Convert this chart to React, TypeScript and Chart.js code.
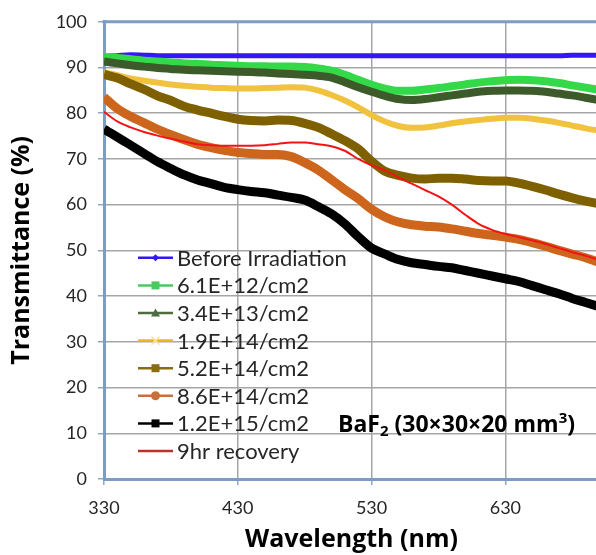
import { useEffect, useRef } from "react";
import { Chart, registerables } from "chart.js";

Chart.register(...registerables);

// Wavelength (nm)
const wavelengths = [
  330, 340, 350, 360, 370, 380, 390, 400, 410, 420, 430, 440, 450, 460, 470, 480, 490, 500, 510,
  520, 530, 540, 550, 560, 570, 580, 590, 600, 610, 620, 630, 640, 650, 660, 670, 680, 690, 700,
];

const beforeIrradiation = [
  92.4, 92.6, 92.8, 92.7, 92.6, 92.6, 92.6, 92.6, 92.6, 92.6, 92.6, 92.6, 92.6, 92.6, 92.6, 92.6, 92.6, 92.6, 92.6,
  92.6, 92.6, 92.6, 92.6, 92.6, 92.6, 92.6, 92.6, 92.6, 92.6, 92.6, 92.6, 92.6, 92.6, 92.6, 92.6, 92.7, 92.7, 92.7,
];
const dose61E12 = [
  92.3, 92.1, 91.8, 91.5, 91.3, 91.1, 90.9, 90.8, 90.6, 90.5, 90.4, 90.3, 90.3, 90.2, 90.2, 90.1, 89.8, 89.3, 88.4,
  87.3, 86.2, 85.4, 84.9, 84.9, 85.2, 85.5, 85.9, 86.3, 86.7, 87.0, 87.2, 87.3, 87.2, 87.0, 86.6, 86.1, 85.6, 85.1,
];
const dose34E13 = [
  91.3, 90.9, 90.5, 90.2, 89.9, 89.7, 89.5, 89.4, 89.3, 89.2, 89.1, 89.0, 88.9, 88.7, 88.6, 88.4, 88.2, 87.8, 86.8,
  85.7, 84.7, 83.8, 83.1, 82.9, 83.1, 83.5, 83.9, 84.3, 84.7, 84.9, 85.0, 85.0, 84.9, 84.7, 84.3, 83.9, 83.4, 82.9,
];
const dose19E14 = [
  89.0, 88.3, 87.6, 87.1, 86.7, 86.3, 86.0, 85.8, 85.6, 85.5, 85.4, 85.4, 85.5, 85.6, 85.7, 85.6, 85.0, 84.0, 82.8,
  81.3, 79.6, 78.2, 77.2, 76.8, 76.9, 77.3, 77.8, 78.2, 78.5, 78.8, 79.0, 79.0, 78.8, 78.4, 77.9, 77.3, 76.7, 76.2,
];
const dose52E14 = [
  88.5, 87.7, 86.4, 85.2, 83.8, 82.8, 81.5, 80.7, 80.0, 79.3, 78.7, 78.4, 78.3, 78.5, 78.4, 77.8, 76.9, 75.5, 74.0,
  72.2, 69.5, 67.3, 66.4, 65.8, 65.6, 65.8, 65.8, 65.6, 65.3, 65.2, 65.2, 64.7, 64.0, 63.2, 62.3, 61.5, 60.8, 60.2,
];
const dose86E14 = [
  83.5, 81.0, 79.3, 77.9, 76.5, 75.3, 74.2, 73.2, 72.5, 71.9, 71.4, 71.2, 71.0, 71.0, 70.5, 69.2, 67.6, 65.5, 63.3,
  61.3, 59.0, 57.3, 56.2, 55.6, 55.3, 55.1, 54.7, 54.2, 53.7, 53.3, 52.9, 52.4, 51.7, 50.9, 50.0, 49.2, 48.4, 47.4,
];
const dose12E15 = [
  76.5, 74.8, 73.0, 71.2, 69.4, 67.9, 66.5, 65.4, 64.6, 63.8, 63.3, 62.9, 62.6, 62.1, 61.6, 61.0, 59.6, 58.0, 55.8,
  53.0, 50.5, 49.2, 48.0, 47.3, 46.9, 46.5, 46.2, 45.6, 45.0, 44.4, 43.8, 43.2, 42.3, 41.4, 40.5, 39.5, 38.6, 37.7,
];
const recovery9hr = [
  80.3, 78.2, 76.9, 75.9, 75.1, 74.4, 73.8, 73.2, 73.0, 72.9, 72.9, 72.9, 73.0, 73.3, 73.6, 73.6, 73.2, 72.8, 71.8,
  70.0, 68.6, 67.5, 66.0, 64.6, 63.2, 61.8, 60.0, 57.8, 55.8, 54.5, 53.6, 52.9, 52.2, 51.4, 50.5, 49.6, 48.8, 47.9,
];

const seriesLabels = [
  "Before Irradiation",
  "6.1E+12/cm2",
  "3.4E+13/cm2",
  "1.9E+14/cm2",
  "5.2E+14/cm2",
  "8.6E+14/cm2",
  "1.2E+15/cm2",
  "9hr recovery",
];
const seriesValues = [
  beforeIrradiation, dose61E12, dose34E13, dose19E14, dose52E14, dose86E14, dose12E15, recovery9hr,
];
const seriesColors = ["#3417f5", "#33d948", "#3c5a2a", "#f0c23e", "#7f6000", "#cd651c", "#000000", "#f21414"];
const legendLineColors = ["#3417f5", "#4cc860", "#4f6b40", "#e8b820", "#8a6d10", "#c8703a", "#000000", "#c0302a"];
const seriesWidths = [5, 8, 8, 6, 9, 9, 9, 2];
const legendMarkers = ["diamond", "square", "triangle", "cross", "square", "circle", "square", "none"];

const xTicks = [330, 430, 530, 630];
const yTicks = [0, 10, 20, 30, 40, 50, 60, 70, 80, 90, 100];

const FRAME = "#7d9cc2";
const GRID = "#a6a6a6";
const FONT = "Lato, 'Open Sans', sans-serif";
const TITLE_FONT = "'Open Sans', Lato, sans-serif";

const framePlugin = {
  id: "frameTop",
  beforeDatasetsDraw(chart: any) {
    const { ctx, chartArea } = chart;
    ctx.save();
    ctx.strokeStyle = FRAME;
    ctx.lineWidth = 3;
    ctx.beginPath();
    ctx.moveTo(chartArea.left - 1.5, chartArea.top);
    ctx.lineTo(chartArea.right + 2, chartArea.top);
    ctx.stroke();
    ctx.restore();
  },
};

function drawMarker(ctx: CanvasRenderingContext2D, kind: string, x: number, y: number, color: string) {
  ctx.save();
  ctx.fillStyle = color;
  ctx.strokeStyle = color;
  if (kind === "diamond") {
    ctx.beginPath();
    ctx.moveTo(x, y - 3.5);
    ctx.lineTo(x + 3.5, y);
    ctx.lineTo(x, y + 3.5);
    ctx.lineTo(x - 3.5, y);
    ctx.closePath();
    ctx.fill();
  } else if (kind === "square") {
    ctx.fillRect(x - 4, y - 4, 8, 8);
  } else if (kind === "triangle") {
    ctx.beginPath();
    ctx.moveTo(x, y - 4.5);
    ctx.lineTo(x + 4.5, y + 3.5);
    ctx.lineTo(x - 4.5, y + 3.5);
    ctx.closePath();
    ctx.fill();
  } else if (kind === "circle") {
    ctx.beginPath();
    ctx.arc(x, y, 4.5, 0, Math.PI * 2);
    ctx.fill();
  } else if (kind === "cross") {
    ctx.strokeStyle = "#f7e3a0";
    ctx.lineWidth = 1.5;
    ctx.beginPath();
    ctx.moveTo(x - 4, y - 4);
    ctx.lineTo(x + 4, y + 4);
    ctx.moveTo(x + 4, y - 4);
    ctx.lineTo(x - 4, y + 4);
    ctx.stroke();
  }
  ctx.restore();
}

const legendPlugin = {
  id: "insideLegend",
  afterDraw(chart: any) {
    const { ctx, chartArea } = chart;
    const x0 = chartArea.left + 34;
    const y0 = chartArea.top + 236;
    const step = 27.6;
    ctx.save();
    ctx.font = `22px ${FONT}`;
    ctx.textBaseline = "middle";
    ctx.textAlign = "left";
    seriesLabels.forEach((label, i) => {
      const y = y0 + i * step;
      ctx.strokeStyle = legendLineColors[i];
      ctx.lineWidth = 2.5;
      ctx.beginPath();
      ctx.moveTo(x0, y);
      ctx.lineTo(x0 + 35, y);
      ctx.stroke();
      drawMarker(ctx, legendMarkers[i], x0 + 17.5, y, legendLineColors[i]);
      ctx.fillStyle = "#262626";
      ctx.fillText(label, x0 + 39, y + 1);
    });
    ctx.restore();
  },
};

const annotationPlugin = {
  id: "crystalLabel",
  afterDraw(chart: any) {
    const { ctx, chartArea } = chart;
    let x = chartArea.left + 234;
    const y = chartArea.top + 404;
    const big = `bold 23px ${TITLE_FONT}`;
    const small = `bold 15px ${TITLE_FONT}`;
    const parts: [string, string, number][] = [
      ["BaF", big, 0],
      ["2", small, 6],
      [" (30×30×20 mm", big, 0],
      ["3", small, -7],
      [")", big, 0],
    ];
    ctx.save();
    ctx.fillStyle = "#000";
    ctx.textBaseline = "middle";
    ctx.textAlign = "left";
    for (const [t, f, dy] of parts) {
      ctx.font = f;
      ctx.fillText(t, x, y + dy);
      x += ctx.measureText(t).width;
    }
    ctx.restore();
  },
};

export default function App() {
  const ref = useRef<HTMLCanvasElement>(null);

  useEffect(() => {
    if (!ref.current) return;
    const datasets = seriesLabels.map((label, i) => ({
      label,
      data: seriesValues[i].map((v, j) => ({ x: wavelengths[j], y: v })),
      borderColor: seriesColors[i],
      backgroundColor: seriesColors[i],
      borderWidth: seriesWidths[i],
      pointRadius: 0,
      tension: 0.4,
      cubicInterpolationMode: "monotone" as const,
      fill: false,
      order: -i,
    }));
    const chart = new Chart(ref.current, {
      type: "line",
      data: { datasets },
      options: {
        animation: false,
        responsive: false,
        devicePixelRatio: 1,
        layout: { padding: { top: 17, right: 1, left: 0, bottom: 0 } },
        plugins: {
          legend: { display: false },
          tooltip: { enabled: false },
        },
        scales: {
          x: {
            type: "linear",
            min: 330,
            max: 700,
            afterBuildTicks: (scale: any) => {
              scale.ticks = xTicks.map((v) => ({ value: v }));
            },
            afterFit: (scale: any) => {
              scale.height = 76;
            },
            grid: { color: GRID, lineWidth: 1.5, tickLength: 6, tickColor: "#8fa6c4" },
            border: { display: true, color: FRAME, width: 3 },
            ticks: {
              autoSkip: false,
              maxRotation: 0,
              padding: 12,
              color: "#262626",
              font: { family: FONT, size: 18 },
              callback: (v: any) => String(v),
            },
            title: {
              display: true,
              text: "Wavelength (nm)",
              color: "#000",
              font: { family: TITLE_FONT, size: 25, weight: "bold" },
              padding: { top: 0, bottom: 0 },
            },
          },
          y: {
            type: "linear",
            min: 0,
            max: 100,
            afterBuildTicks: (scale: any) => {
              scale.ticks = yTicks.map((v) => ({ value: v }));
            },
            afterFit: (scale: any) => {
              scale.width = 104;
            },
            grid: { color: GRID, lineWidth: 1.5, tickLength: 6, tickColor: "#8fa6c4" },
            border: { display: true, color: FRAME, width: 3 },
            ticks: {
              padding: 11,
              color: "#262626",
              font: { family: FONT, size: 18 },
            },
            title: {
              display: true,
              text: "Transmittance (%)",
              color: "#000",
              font: { family: TITLE_FONT, size: 25, weight: "bold" },
              padding: { top: 7, bottom: 0 },
            },
          },
        },
      },
      plugins: [framePlugin, legendPlugin, annotationPlugin],
    });
    return () => chart.destroy();
  }, []);

  return (
    <div
      style={{
        position: "absolute",
        left: 0,
        top: 0,
        width: 596,
        height: 555,
        overflow: "hidden",
        background: "#ffffff",
      }}
    >
      <canvas ref={ref} width={600} height={555} style={{ display: "block" }} />
    </div>
  );
}
